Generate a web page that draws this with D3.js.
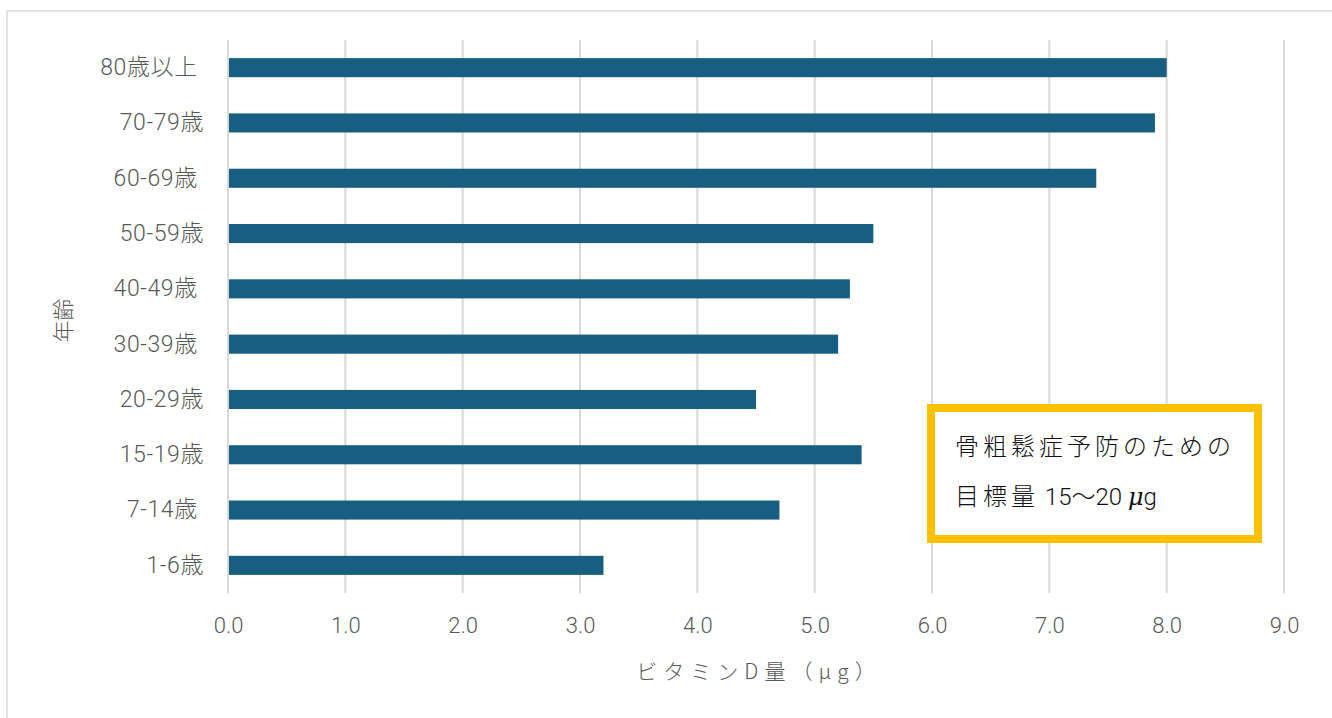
<!DOCTYPE html>
<html lang="ja">
<head>
<meta charset="utf-8">
<script src="https://cdn.jsdelivr.net/npm/d3@7"></script>
<style>
  html, body { margin: 0; padding: 0; background: #ffffff; }
  svg { display: block; }
  text { font-family: Roboto, "Noto Sans CJK JP", sans-serif; }
</style>
</head>
<body>
<svg id="chart" width="1332" height="718"></svg>
<script>
// Age groups, top to bottom (some labels carry a trailing space)
const ageGroups = ["80歳以上 ", "70-79歳", "60-69歳 ", "50-59歳", "40-49歳 ", "30-39歳 ", "20-29歳", "15-19歳", "7-14歳 ", "1-6歳"];
// Vitamin D intake (µg) for each age group
const vitaminD = [8.0, 7.9, 7.4, 5.5, 5.3, 5.2, 4.5, 5.4, 4.7, 3.2];
// X-axis ticks
const xTicks = [0, 1, 2, 3, 4, 5, 6, 7, 8, 9];
const xTitle = "ビタミンD量（μg）";
const yTitle = "年齢";
const noteLine1 = "骨粗鬆症予防のための";
const noteLine2 = ["目標量", " 15", "〜", "20 ", "μ", "g"];

const svg = d3.select("#chart");
const W = 1332, H = 718;
const plot = { left: 228, right: 1284, top: 40, bottom: 593 };
const latin = "Roboto, \"Noto Sans CJK JP\", sans-serif";
const cjk = "\"Noto Sans CJK JP\", sans-serif";

// Chart frame
svg.append("rect")
  .attr("x", 7).attr("y", 11)
  .attr("width", W + 20).attr("height", H + 20)
  .attr("fill", "#ffffff")
  .attr("stroke", "#d9d9d9").attr("stroke-width", 1.5);

const x = d3.scaleLinear().domain([0, 9]).range([plot.left, plot.right]);
const y = d3.scaleBand().domain(ageGroups).range([plot.top, plot.bottom]).paddingInner(0.655).paddingOuter(0.3275);

// Vertical gridlines
svg.append("g").selectAll("line").data(xTicks).join("line")
  .attr("x1", d => x(d)).attr("x2", d => x(d))
  .attr("y1", plot.top).attr("y2", plot.bottom)
  .attr("stroke", "#d9d9d9").attr("stroke-width", 2);

// Bars
svg.append("g").selectAll("rect").data(ageGroups).join("rect")
  .attr("x", x(0) + 1)
  .attr("y", d => y(d))
  .attr("width", (d, i) => x(vitaminD[i]) - x(0) - 1)
  .attr("height", y.bandwidth())
  .attr("fill", "#175e80");

// X axis tick labels
const xAxis = d3.axisBottom(x).tickValues(xTicks).tickFormat(d3.format(".1f")).tickSize(0).tickPadding(0);
const gx = svg.append("g").attr("transform", `translate(0,${plot.bottom + 24})`).call(xAxis);
gx.select(".domain").remove();
gx.selectAll("text")
  .attr("dy", "0.71em")
  .attr("font-size", 22).attr("fill", "#595959")
  .attr("font-weight", 300)
  .style("font-family", latin);

// Y axis category labels
const yAxis = d3.axisLeft(y).tickSize(0).tickPadding(0);
const gy = svg.append("g").attr("transform", `translate(${plot.left - 24},0)`).call(yAxis);
gy.select(".domain").remove();
gy.selectAll("text")
  .attr("font-size", 23).attr("fill", "#595959")
  .attr("font-weight", 300)
  .attr("letter-spacing", 0.6)
  .style("white-space", "pre")
  .style("font-family", latin);

// Axis titles
svg.append("text")
  .attr("x", (plot.left + plot.right) / 2 + 3).attr("y", 679)
  .attr("text-anchor", "middle")
  .attr("font-size", 21).attr("fill", "#595959")
  .attr("font-weight", 300)
  .attr("letter-spacing", 6)
  .style("font-family", cjk)
  .text(xTitle);

svg.append("text")
  .attr("transform", `translate(71,${(plot.top + plot.bottom) / 2 + 4}) rotate(-90)`)
  .attr("text-anchor", "middle")
  .attr("font-size", 22).attr("fill", "#595959")
  .attr("font-weight", 300)
  .style("font-family", cjk)
  .text(yTitle);

// Callout box
const note = svg.append("g");
note.append("rect")
  .attr("x", 931).attr("y", 408)
  .attr("width", 327).attr("height", 131)
  .attr("fill", "#ffffff")
  .attr("stroke", "#ffc000").attr("stroke-width", 8);
note.append("text")
  .attr("x", 955).attr("y", 455)
  .attr("font-size", 24).attr("fill", "#111111")
  .attr("font-weight", 300)
  .attr("letter-spacing", 4)
  .style("font-family", cjk)
  .text(noteLine1);
const line2 = note.append("text")
  .attr("x", 955).attr("y", 505)
  .attr("font-size", 24).attr("fill", "#111111")
  .attr("font-weight", 300)
  .style("white-space", "pre");
line2.selectAll("tspan").data(noteLine2).join("tspan")
  .attr("letter-spacing", (d, i) => i === 0 ? 4 : 0)
  .attr("font-style", d => d === "μ" ? "italic" : null)
  .style("font-family", d => d === "μ" ? "\"DejaVu Serif\", serif" : (/[0-9 g]/.test(d) ? latin : cjk))
  .text(d => d);
</script>
</body>
</html>
